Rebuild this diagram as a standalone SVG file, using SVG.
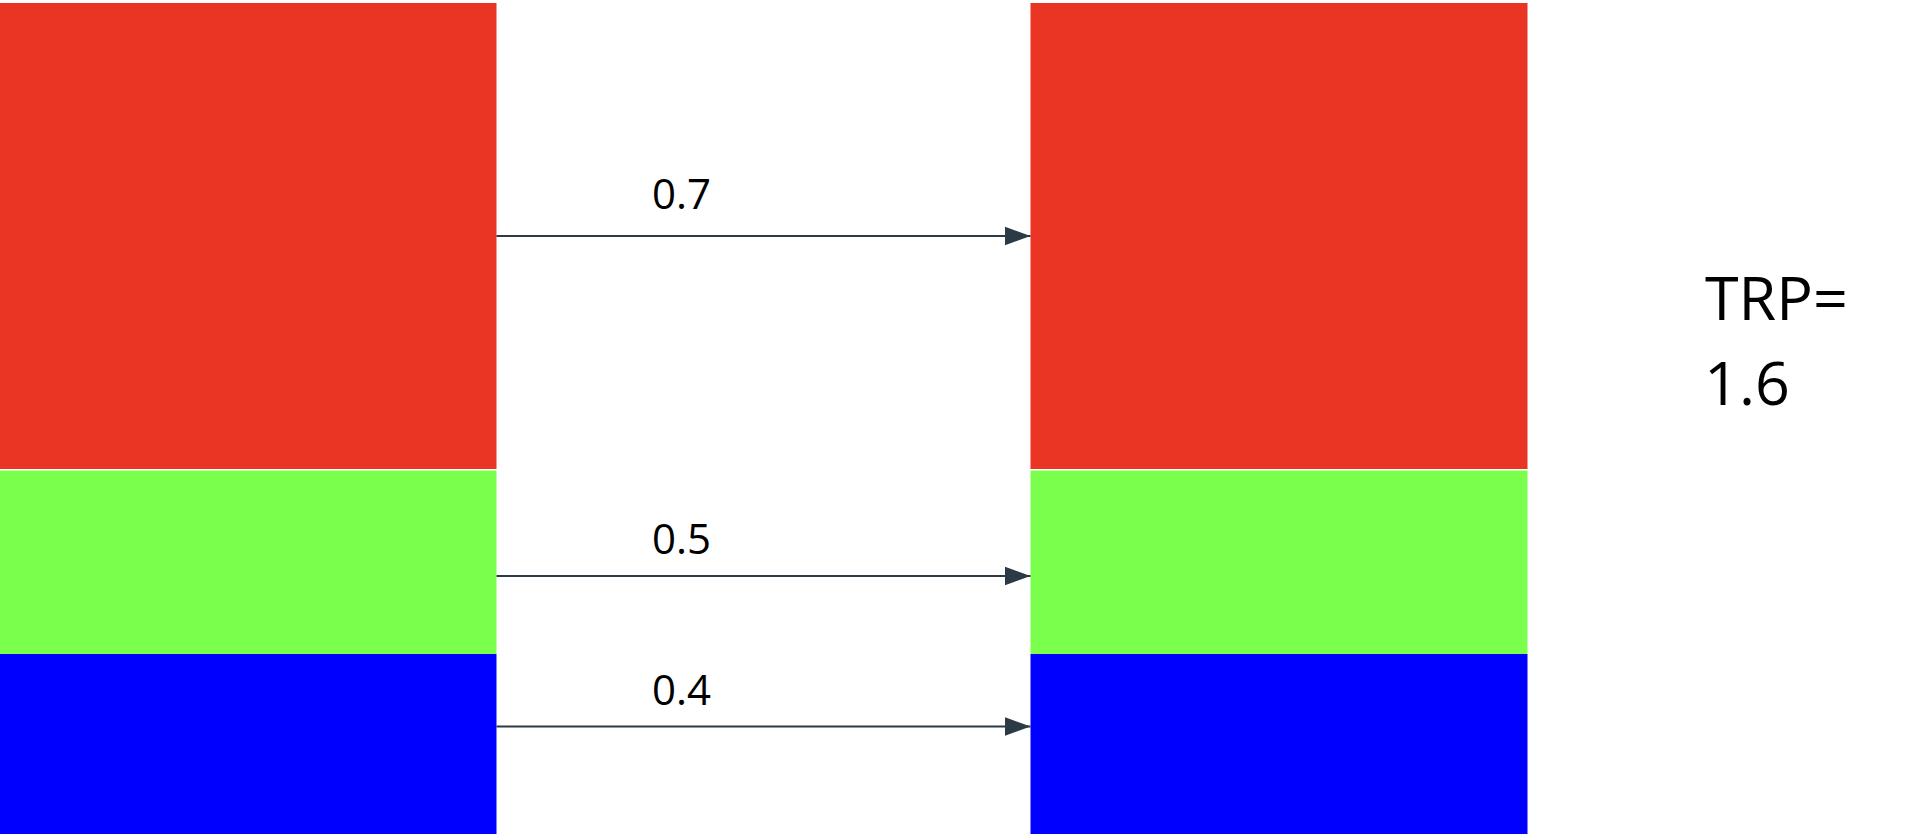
<svg xmlns="http://www.w3.org/2000/svg" width="1914" height="840" viewBox="0 0 1914 840">
<style>
.red{fill:#ea3525}
.green{fill:#7aff4c}
.blue{fill:#0000ff}
.lbl{font-family:"Open Sans","Liberation Sans",sans-serif;font-size:42px;fill:#000}
.big{font-family:"Open Sans","Liberation Sans",sans-serif;font-size:61px;fill:#000}
.edge{stroke:#2b3a44;stroke-width:2;fill:none}
</style>
<defs>
<marker id="arr" markerUnits="userSpaceOnUse" markerWidth="27" markerHeight="20" refX="26" refY="10" orient="auto">
<path d="M0,0.5 L26,10 L0,19.5 Z" fill="#2b3a44"/>
</marker>
</defs>
<g id="left-red"><rect class="red" x="0" y="3" width="496.5" height="466"/></g>
<g id="left-green"><rect class="green" x="0" y="470.5" width="496.5" height="183.5"/></g>
<g id="left-blue"><rect class="blue" x="0" y="654" width="496.5" height="180"/></g>
<g id="right-red"><rect class="red" x="1030.5" y="3" width="497" height="466"/></g>
<g id="right-green"><rect class="green" x="1030.5" y="470.5" width="497" height="183.5"/></g>
<g id="right-blue"><rect class="blue" x="1030.5" y="654" width="497" height="180"/></g>
<g id="connectors">
<line class="edge" x1="496.5" y1="236" x2="1030.5" y2="236" marker-end="url(#arr)"/>
<line class="edge" x1="496.5" y1="576" x2="1030.5" y2="576" marker-end="url(#arr)"/>
<line class="edge" x1="496.5" y1="726.5" x2="1030.5" y2="726.5" marker-end="url(#arr)"/>
<text class="lbl" x="652" y="209">0.7</text>
<text class="lbl" x="652" y="553.5">0.5</text>
<text class="lbl" x="652" y="704.5">0.4</text>
</g>
<g id="trp">
<text class="big" x="1705" y="319.5">TRP=</text>
<text class="big" x="1704" y="405">1.6</text>
</g>
</svg>
